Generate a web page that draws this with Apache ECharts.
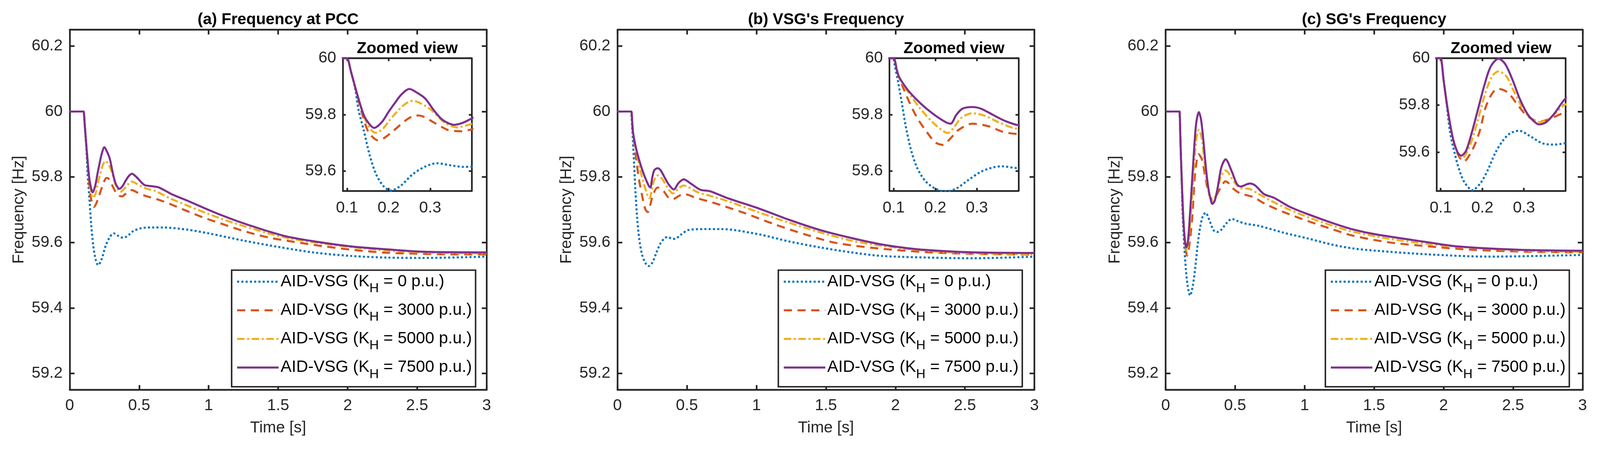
<!DOCTYPE html>
<html>
<head>
<meta charset="utf-8">
<script src="https://cdn.jsdelivr.net/npm/echarts@6/dist/echarts.min.js"></script>
<style>html,body{margin:0;padding:0;background:#fff;overflow:hidden}#c{position:absolute;left:0;top:0}</style>
</head>
<body>
<div id="c"></div>
<script>
// ---------------- DATA ----------------
const panelTitles = ['(a) Frequency at PCC', "(b) VSG's Frequency", "(c) SG's Frequency"];
const insetTitle = 'Zoomed view';
const kValues = ['0', '3000', '5000', '7500'];
const timeTicksMain = [0, 0.5, 1, 1.5, 2, 2.5, 3];
const freqTicksMain = [59.2, 59.4, 59.6, 59.8, 60, 60.2];
const timeTicksZoom = [0.1, 0.2, 0.3];
const freqTicksZoom = [59.6, 59.8, 60];

// (a) Frequency at PCC
const pcc_K0 = [[0,60],[0.098,60],[0.1,60],[0.11,59.95],[0.12,59.89],[0.128,59.815],[0.14,59.746],[0.155,59.654],[0.17,59.589],[0.187,59.548],[0.205,59.531],[0.229,59.548],[0.258,59.589],[0.288,59.616],[0.316,59.628],[0.347,59.621],[0.38,59.615],[0.4,59.616],[0.43,59.625],[0.458,59.635],[0.517,59.644],[0.6,59.646],[0.672,59.646],[0.851,59.639],[1.0,59.628],[1.25,59.606],[1.509,59.586],[1.767,59.569],[2.026,59.559],[2.285,59.554],[2.543,59.553],[3.0,59.557]];
const pcc_K3000 = [[0,60],[0.098,60],[0.1,60],[0.11,59.95],[0.122,59.885],[0.135,59.81],[0.149,59.746],[0.162,59.72],[0.175,59.709],[0.19,59.718],[0.211,59.742],[0.244,59.783],[0.265,59.797],[0.28,59.795],[0.309,59.772],[0.342,59.746],[0.36,59.742],[0.377,59.741],[0.4,59.748],[0.425,59.757],[0.446,59.76],[0.49,59.752],[0.541,59.743],[0.637,59.731],[0.732,59.716],[0.851,59.695],[0.97,59.675],[1.089,59.658],[1.208,59.641],[1.327,59.626],[1.446,59.614],[1.6,59.603],[1.819,59.589],[2.052,59.577],[2.272,59.569],[2.491,59.566],[2.724,59.564],[3.0,59.564]];
const pcc_K5000 = [[0,60],[0.098,60],[0.1,60],[0.11,59.95],[0.122,59.885],[0.14,59.797],[0.155,59.752],[0.168,59.736],[0.185,59.748],[0.199,59.774],[0.22,59.81],[0.24,59.838],[0.258,59.849],[0.28,59.838],[0.303,59.816],[0.336,59.77],[0.365,59.755],[0.399,59.767],[0.425,59.78],[0.449,59.786],[0.48,59.78],[0.517,59.771],[0.565,59.763],[0.613,59.758],[0.732,59.733],[0.851,59.712],[0.97,59.692],[1.089,59.673],[1.208,59.656],[1.327,59.641],[1.446,59.626],[1.6,59.611],[1.8,59.598],[2.05,59.585],[2.3,59.575],[2.6,59.569],[3.0,59.567]];
const pcc_K7500 = [[0,60],[0.098,60],[0.1,60],[0.11,59.95],[0.122,59.885],[0.14,59.80],[0.152,59.77],[0.165,59.753],[0.184,59.774],[0.2,59.81],[0.214,59.839],[0.23,59.87],[0.25,59.891],[0.268,59.878],[0.288,59.857],[0.309,59.815],[0.33,59.781],[0.358,59.764],[0.38,59.772],[0.399,59.786],[0.425,59.803],[0.449,59.81],[0.47,59.804],[0.494,59.794],[0.52,59.782],[0.541,59.775],[0.589,59.772],[0.636,59.769],[0.68,59.76],[0.732,59.748],[0.851,59.727],[0.97,59.705],[1.089,59.684],[1.208,59.665],[1.327,59.648],[1.446,59.632],[1.565,59.618],[1.767,59.603],[2.026,59.588],[2.285,59.579],[2.543,59.572],[3.0,59.570]];

// (b) VSG's Frequency
const vsg_K0 = [[0,60],[0.098,60],[0.1,60],[0.102,59.98],[0.111,59.913],[0.12,59.838],[0.129,59.759],[0.141,59.679],[0.156,59.613],[0.176,59.565],[0.2,59.538],[0.224,59.528],[0.25,59.538],[0.28,59.569],[0.31,59.598],[0.339,59.613],[0.36,59.617],[0.397,59.611],[0.42,59.612],[0.46,59.625],[0.509,59.638],[0.62,59.641],[0.752,59.641],[1.017,59.625],[1.238,59.603],[1.459,59.585],[1.681,59.57],[1.902,59.559],[2.344,59.553],[2.565,59.552],[3.0,59.557]];
const vsg_K3000 = [[0,60],[0.098,60],[0.1,60],[0.111,59.94],[0.12,59.905],[0.138,59.843],[0.156,59.79],[0.176,59.746],[0.2,59.702],[0.218,59.693],[0.236,59.715],[0.256,59.746],[0.289,59.768],[0.328,59.759],[0.363,59.739],[0.397,59.732],[0.44,59.742],[0.476,59.748],[0.575,59.735],[0.686,59.722],[0.907,59.691],[1.128,59.656],[1.349,59.625],[1.57,59.599],[1.902,59.581],[2.344,59.568],[3.0,59.563]];
const vsg_K5000 = [[0,60],[0.098,60],[0.1,60],[0.111,59.94],[0.117,59.918],[0.138,59.874],[0.162,59.825],[0.191,59.777],[0.215,59.746],[0.23,59.735],[0.245,59.755],[0.262,59.788],[0.289,59.805],[0.319,59.796],[0.354,59.772],[0.4,59.75],[0.44,59.765],[0.476,59.774],[0.575,59.754],[0.663,59.743],[0.796,59.726],[1.017,59.692],[1.238,59.66],[1.459,59.631],[1.681,59.606],[1.902,59.59],[2.344,59.571],[3.0,59.564]];
const vsg_K7500 = [[0,60],[0.098,60],[0.1,60],[0.111,59.94],[0.132,59.891],[0.156,59.852],[0.179,59.821],[0.203,59.794],[0.227,59.772],[0.237,59.768],[0.2505,59.799],[0.265,59.821],[0.289,59.827],[0.31,59.821],[0.339,59.799],[0.369,59.777],[0.405,59.762],[0.44,59.782],[0.476,59.793],[0.531,59.779],[0.597,59.761],[0.663,59.757],[0.796,59.735],[1.017,59.704],[1.238,59.669],[1.459,59.638],[1.681,59.614],[1.902,59.594],[2.123,59.581],[2.344,59.574],[2.565,59.57],[3.0,59.568]];

// (c) SG's Frequency
const sg_K0 = [[0,60],[0.098,60],[0.1,60],[0.107,59.906],[0.114,59.81],[0.122,59.69],[0.134,59.591],[0.146,59.517],[0.158,59.469],[0.176,59.438],[0.196,59.469],[0.214,59.527],[0.231,59.596],[0.249,59.648],[0.267,59.68],[0.288,59.691],[0.314,59.669],[0.344,59.638],[0.37,59.632],[0.398,59.638],[0.44,59.66],[0.476,59.672],[0.52,59.665],[0.582,59.657],[0.671,59.651],[0.849,59.63],[1.027,59.612],[1.204,59.593],[1.347,59.582],[1.511,59.575],[1.883,59.564],[2.321,59.557],[3.0,59.562]];
const sg_K3000 = [[0,60],[0.098,60],[0.1,60],[0.107,59.906],[0.116,59.791],[0.128,59.669],[0.14,59.595],[0.155,59.56],[0.175,59.606],[0.193,59.685],[0.208,59.791],[0.223,59.848],[0.237,59.87],[0.261,59.854],[0.285,59.801],[0.308,59.754],[0.338,59.73],[0.361,59.741],[0.398,59.769],[0.431,59.787],[0.493,59.762],[0.538,59.75],[0.627,59.739],[0.716,59.718],[0.849,59.693],[1.027,59.665],[1.204,59.64],[1.347,59.621],[1.6,59.601],[1.9,59.588],[2.2,59.578],[2.6,59.572],[3.0,59.570]];
const sg_K5000 = [[0,60],[0.098,60],[0.1,60],[0.107,59.906],[0.116,59.791],[0.128,59.669],[0.14,59.6],[0.152,59.575],[0.169,59.622],[0.187,59.722],[0.205,59.838],[0.223,59.922],[0.239,59.944],[0.258,59.922],[0.276,59.859],[0.294,59.796],[0.314,59.748],[0.338,59.728],[0.361,59.743],[0.398,59.801],[0.431,59.82],[0.493,59.785],[0.538,59.766],[0.6,59.764],[0.671,59.748],[0.76,59.727],[0.893,59.70],[1.027,59.677],[1.204,59.651],[1.347,59.633],[1.6,59.612],[1.9,59.595],[2.2,59.584],[2.6,59.575],[3.0,59.572]];
const sg_K7500 = [[0,60],[0.098,60],[0.1,60],[0.107,59.906],[0.116,59.791],[0.128,59.669],[0.14,59.601],[0.149,59.585],[0.161,59.606],[0.175,59.685],[0.19,59.785],[0.205,59.885],[0.22,59.964],[0.239,59.998],[0.255,59.975],[0.273,59.906],[0.29,59.827],[0.308,59.764],[0.323,59.733],[0.336,59.718],[0.353,59.727],[0.373,59.764],[0.398,59.825],[0.415,59.845],[0.431,59.854],[0.476,59.817],[0.511,59.78],[0.538,59.771],[0.605,59.78],[0.645,59.774],[0.707,59.748],[0.778,59.737],[0.893,59.709],[1.027,59.686],[1.204,59.659],[1.347,59.64],[1.511,59.625],[1.883,59.601],[2.102,59.588],[2.54,59.578],[3.0,59.575]];

// ---------------- LAYOUT / STYLE ----------------
const W = window.innerWidth || 4317, H = window.innerHeight || 1216;
const S = Math.min(W / 4317, H / 1216);
const px = v => v * S;
const FONT = "'Liberation Sans', Arial, Helvetica, sans-serif";
const AX = '#262626';
const seriesStyles = [
  { color: '#0072BD', type: [5.5, 6] },
  { color: '#D95319', type: [22, 15] },
  { color: '#EDB120', type: [20, 7, 5.5, 7] },
  { color: '#7E2F8E', type: 'solid' }
];
const panels = [
  { data: [pcc_K0, pcc_K3000, pcc_K5000, pcc_K7500], left: 188, insetLeft: 925, insetMin: 59.53, legendLeft: 625 },
  { data: [vsg_K0, vsg_K3000, vsg_K5000, vsg_K7500], left: 1666, insetLeft: 2400, insetMin: 59.53, legendLeft: 2100 },
  { data: [sg_K0, sg_K3000, sg_K5000, sg_K7500], left: 3145, insetLeft: 3876, insetMin: 59.435, legendLeft: 3576 }
];
const MAIN_TOP = 80, MAIN_W = 1125, MAIN_H = 972;
const INSET_TOP = 157, INSET_W = 348, INSET_H = 358;
const FS = 43, LFS = 44.5;
const seriesNames = kValues.map(k => 'AID-VSG (KH = ' + k + ' p.u.)');

const fmt = v => String(parseFloat(Number(v).toFixed(3)));

function makeAxis(gridIndex, position, min, max, ticks, showLabel, tickLen, margin, extra) {
  return Object.assign({
    type: 'value', gridIndex, position, min, max,
    axisLine: { show: true, onZero: false, lineStyle: { color: AX, width: px(4.5) } },
    axisTick: { show: true, inside: true, length: px(tickLen), customValues: ticks, lineStyle: { color: AX, width: px(4.5) } },
    axisLabel: { show: showLabel, customValues: ticks, margin: px(margin), formatter: fmt, color: AX, fontSize: px(FS), fontFamily: FONT },
    splitLine: { show: false }
  }, extra || {});
}

const grid = [], xAxis = [], yAxis = [], series = [], title = [], legend = [];
panels.forEach((p, i) => {
  grid.push({ left: px(p.left), top: px(MAIN_TOP), width: px(MAIN_W), height: px(MAIN_H), outerBoundsMode: 'none', containLabel: false });
  grid.push({ left: px(p.insetLeft), top: px(INSET_TOP), width: px(INSET_W), height: px(INSET_H), outerBoundsMode: 'none', containLabel: false,
              show: true, backgroundColor: '#fff', borderWidth: 0, z: 5 });
  const gm = 2 * i, gi = 2 * i + 1;
  const nameStyle = { fontSize: px(FS), color: AX, fontFamily: FONT };
  xAxis.push(makeAxis(gm, 'bottom', 0, 3, timeTicksMain, true, 13, 21,
    { name: 'Time [s]', nameLocation: 'middle', nameGap: px(81), nameTextStyle: nameStyle }));
  xAxis.push(makeAxis(gm, 'top', 0, 3, timeTicksMain, false, 13, 0));
  xAxis.push(makeAxis(gi, 'bottom', 0.09, 0.4, timeTicksZoom, true, 8, 25, { z: 6 }));
  xAxis.push(makeAxis(gi, 'top', 0.09, 0.4, timeTicksZoom, false, 8, 0, { z: 6 }));
  yAxis.push(makeAxis(gm, 'left', 59.15, 60.25, freqTicksMain, true, 13, 19,
    { name: 'Frequency [Hz]', nameLocation: 'middle', nameGap: px(115), nameRotate: 90, nameTextStyle: nameStyle }));
  yAxis.push(makeAxis(gm, 'right', 59.15, 60.25, freqTicksMain, false, 13, 0));
  yAxis.push(makeAxis(gi, 'left', p.insetMin, 60, freqTicksZoom, true, 8, 18, { z: 6 }));
  yAxis.push(makeAxis(gi, 'right', p.insetMin, 60, freqTicksZoom, false, 8, 0, { z: 6 }));

  p.data.forEach((d, j) => {
    const st = seriesStyles[j];
    const base = {
      type: 'line', name: seriesNames[j], data: d, symbol: 'none', showSymbol: false,
      smooth: 0.3, clip: true, animation: false, silent: true,
      lineStyle: { color: st.color, width: px(5.5), type: Array.isArray(st.type) ? st.type.map(px) : st.type, cap: 'butt' },
      itemStyle: { color: st.color },
      emphasis: { disabled: true }
    };
    series.push(Object.assign({}, base, { xAxisIndex: 4 * i, yAxisIndex: 4 * i, z: 2 + j }));
    series.push(Object.assign({}, base, { xAxisIndex: 4 * i + 2, yAxisIndex: 4 * i + 2, z: 7 + j }));
  });

  const titleStyle = { fontSize: px(FS), fontWeight: 'bold', color: '#000', fontFamily: FONT };
  title.push({ text: panelTitles[i], left: px(p.left + MAIN_W / 2), top: px(32), textAlign: 'center', padding: 0, textStyle: titleStyle });
  title.push({ text: insetTitle, left: px(p.insetLeft + INSET_W / 2), top: px(110), textAlign: 'center', padding: 0, textStyle: titleStyle });

  legend.push({
    orient: 'vertical', left: px(p.legendLeft), top: px(729), padding: [9, 10, 16, 12].map(px), itemGap: px(19),
    itemWidth: px(112), itemHeight: px(20), selectedMode: false, data: seriesNames,
    backgroundColor: '#fff', borderColor: AX, borderWidth: px(4), z: 10,
    lineStyle: { width: px(5.5), type: 'inherit' },
    itemStyle: { opacity: 0, color: 'rgba(0,0,0,0)', borderWidth: 0 },
    formatter: name => {
      const k = kValues[seriesNames.indexOf(name)];
      return '{t|AID-VSG (K}{s|H}{t| = ' + k + ' p.u.)}';
    },
    textStyle: {
      fontFamily: FONT, fontSize: px(LFS), color: '#000',
      rich: {
        t: { fontFamily: FONT, fontSize: px(LFS), color: '#000', lineHeight: px(72), verticalAlign: 'middle' },
        s: { fontFamily: FONT, fontSize: px(35), color: '#000', lineHeight: px(48), verticalAlign: 'bottom' }
      }
    }
  });
});

const el = document.getElementById('c');
el.style.width = W + 'px';
el.style.height = H + 'px';
const chart = echarts.init(el, null, { renderer: 'canvas', width: W, height: H });
chart.setOption({ animation: false, backgroundColor: '#fff', title, legend, grid, xAxis, yAxis, series });
</script>
</body>
</html>
